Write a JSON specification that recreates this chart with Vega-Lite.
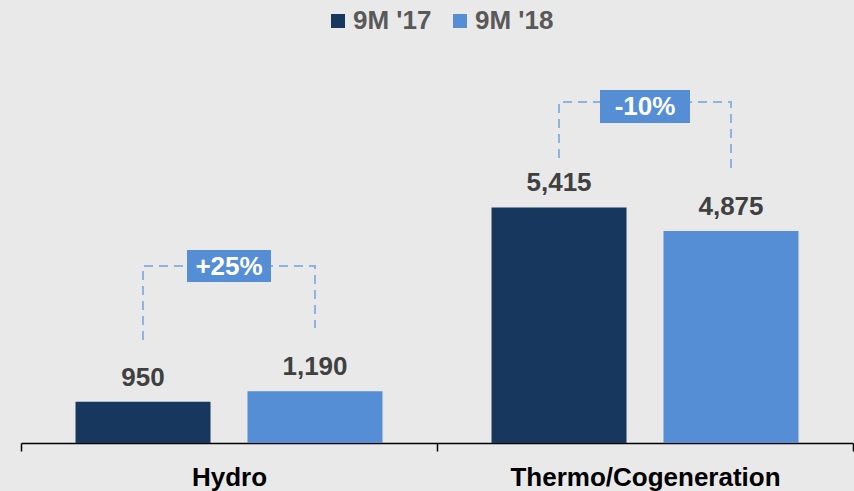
{
  "$schema": "https://vega.github.io/schema/vega-lite/v6.json",
  "width": 832,
  "height": 443,
  "autosize": "none",
  "padding": {"left": 21, "right": 1, "top": 0, "bottom": 48},
  "background": "#e9e9e9",
  "config": {"view": {"stroke": null}, "font": "Liberation Sans"},
  "datasets": {
    "bars": [
      {"category": "Hydro", "series": "9M '17", "value": 950},
      {"category": "Hydro", "series": "9M '18", "value": 1190},
      {"category": "Thermo/Cogeneration", "series": "9M '17", "value": 5415},
      {"category": "Thermo/Cogeneration", "series": "9M '18", "value": 4875}
    ],
    "brackets": [
      {"category": "Hydro", "series": "9M '17", "y": 2368, "ord": 1},
      {"category": "Hydro", "series": "9M '17", "y": 4069, "ord": 2},
      {"category": "Hydro", "series": "9M '18", "y": 4069, "ord": 3},
      {"category": "Hydro", "series": "9M '18", "y": 2644, "ord": 4},
      {"category": "Thermo/Cogeneration", "series": "9M '17", "y": 6552, "ord": 1},
      {"category": "Thermo/Cogeneration", "series": "9M '17", "y": 7839, "ord": 2},
      {"category": "Thermo/Cogeneration", "series": "9M '18", "y": 7839, "ord": 3},
      {"category": "Thermo/Cogeneration", "series": "9M '18", "y": 6207, "ord": 4}
    ],
    "changes": [
      {"category": "Hydro", "label": "+25%", "y": 4069},
      {"category": "Thermo/Cogeneration", "label": "-10%", "y": 7736}
    ]
  },
  "encoding": {
    "x": {
      "field": "category",
      "type": "nominal",
      "sort": ["Hydro", "Thermo/Cogeneration"],
      "scale": {"paddingInner": 0, "paddingOuter": 0},
      "axis": {
        "title": null,
        "labelAngle": 0,
        "labelFont": "Liberation Sans",
        "labelFontSize": 26,
        "labelFontWeight": "bold",
        "labelColor": "#000000",
        "labelPadding": 13,
        "labelLimit": 0,
        "tickBand": "extent",
        "tickSize": 8,
        "tickColor": "#000000",
        "tickWidth": 1.5,
        "domainColor": "#000000",
        "domainWidth": 1.5
      }
    }
  },
  "layer": [
    {
      "data": {"name": "bars"},
      "mark": {"type": "bar"},
      "encoding": {
        "xOffset": {
          "field": "series",
          "type": "nominal",
          "scale": {"paddingInner": 0.215, "paddingOuter": 0.317}
        },
        "y": {
          "field": "value",
          "type": "quantitative",
          "scale": {"domain": [0, 10184], "nice": false, "zero": true},
          "axis": null
        },
        "color": {
          "field": "series",
          "type": "nominal",
          "scale": {"domain": ["9M '17", "9M '18"], "range": ["#17375e", "#558ed5"]},
          "legend": {
            "orient": "none",
            "legendX": 304,
            "legendY": 8,
            "padding": 0,
            "direction": "horizontal",
            "title": null,
            "symbolType": "square",
            "symbolSize": 196,
            "symbolStrokeWidth": 0,
            "labelFont": "Liberation Sans",
            "labelFontSize": 26,
            "labelFontWeight": "bold",
            "labelColor": "#595959",
            "labelOffset": 2,
            "columnPadding": 15
          }
        }
      }
    },
    {
      "data": {"name": "bars"},
      "mark": {"type": "text", "baseline": "alphabetic", "dy": -16, "font": "Liberation Sans", "fontSize": 26, "fontWeight": "bold", "color": "#404040"},
      "encoding": {
        "xOffset": {"field": "series", "type": "nominal", "scale": {"paddingInner": 0.215, "paddingOuter": 0.317}},
        "y": {"field": "value", "type": "quantitative"},
        "text": {"field": "value", "type": "quantitative", "format": ","}
      }
    },
    {
      "data": {"name": "brackets"},
      "mark": {"type": "line", "stroke": "#8db3e2", "strokeWidth": 2, "strokeDash": [9, 6]},
      "encoding": {
        "xOffset": {"field": "series", "type": "nominal", "scale": {"paddingInner": 0.215, "paddingOuter": 0.317}},
        "y": {"field": "y", "type": "quantitative"},
        "detail": {"field": "category"},
        "order": {"field": "ord"}
      }
    },
    {
      "data": {"name": "changes"},
      "mark": {"type": "point", "filled": true, "opacity": 1, "color": "#558ed5", "size": 4},
      "encoding": {
        "y": {"field": "y", "type": "quantitative"},
        "shape": {
          "condition": {"test": "datum.label === '-10%'", "value": "M-45,-16.5H45V16.5H-45Z"},
          "value": "M-42,-16H42V16H-42Z"
        }
      }
    },
    {
      "data": {"name": "changes"},
      "mark": {"type": "text", "font": "Liberation Sans", "fontSize": 26, "fontWeight": "bold", "color": "#ffffff", "baseline": "middle", "dy": 1},
      "encoding": {
        "y": {"field": "y", "type": "quantitative"},
        "text": {"field": "label"}
      }
    }
  ]
}
